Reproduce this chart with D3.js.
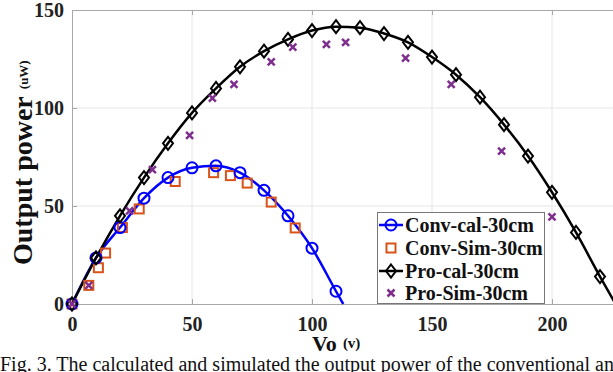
<!DOCTYPE html>
<html><head><meta charset="utf-8">
<script src="https://cdn.jsdelivr.net/npm/d3@7"></script>
<style>body{margin:0;background:#fff}svg{display:block}</style>
</head><body>
<svg id="c" width="613" height="372"></svg>
<script>
// ---- data ----
const xTicks = [0, 50, 100, 150, 200];
const yTicks = [0, 50, 100, 150];

const convCalX = [0, 10, 20, 30, 40, 50, 60, 70, 80, 90, 100, 110];
const convCalY = [0, 23.5, 39, 54, 64.5, 69.5, 70.5, 67, 58, 45, 28.5, 6.5];
const convCalEnd = [113, 0];

const convSimX = [0, 7, 11, 14, 21, 28, 43, 59, 66, 73, 83, 93];
const convSimY = [0, 9.5, 18.5, 26, 39, 48.5, 62.5, 67, 65.5, 61.7, 52, 38.8];

const proCalX = [0, 10, 20, 30, 40, 50, 60, 70, 80, 90, 100, 110, 120, 130, 140, 150, 160, 170, 180, 190, 200, 210, 220];
const proCalY = [0, 23.5, 45, 64.5, 82, 97.5, 110, 121, 129, 135, 139.5, 141.5, 141, 138, 133.5, 126, 117, 105.5, 91.5, 75.5, 57, 36.5, 14];
const proCalEnd = [226.5, 0];

const proSimX = [0, 7, 24, 33.5, 49, 58.5, 67.5, 83, 92, 106, 114, 139, 158, 179, 200];
const proSimY = [0, 9.5, 47.5, 68.5, 86, 105, 112, 123.5, 131, 132.5, 133.5, 125.5, 112, 78, 44.5];

const legendLabels = ["Conv-cal-30cm", "Conv-Sim-30cm", "Pro-cal-30cm", "Pro-Sim-30cm"];
const xTitle = "Vo", xUnit = "(v)";
const yTitle = "Output power", yUnit = "(uW)";
const caption = "Fig. 3. The calculated and simulated the output power of the conventional and";

// ---- layout ----
const svg = d3.select("#c");
const L = 72, T = 10, B = 304;
const x = d3.scaleLinear().domain([0, 225.4]).range([L, L + 225.4 * 2.4]);
const y = d3.scaleLinear().domain([0, 150]).range([B, T]);
const R = x.range()[1];
const font = "'Liberation Serif','Times New Roman',serif";
const BLUE = "#0000ff", ORANGE = "#d95319", BLACK = "#000", PURPLE = "#7e2f8e";

svg.append("rect").attr("width", 613).attr("height", 372).attr("fill", "#fff");

// grid
const g = svg.append("g");
g.selectAll(".gx").data(xTicks.filter(d => d > 0)).join("line")
  .attr("x1", d => x(d)).attr("x2", d => x(d)).attr("y1", T).attr("y2", B)
  .attr("stroke", "#e6e6e6").attr("stroke-width", 1);
g.selectAll(".gy").data(yTicks.filter(d => d > 0 && d < 150)).join("line")
  .attr("y1", d => y(d)).attr("y2", d => y(d)).attr("x1", L).attr("x2", R)
  .attr("stroke", "#e6e6e6").attr("stroke-width", 1);

// axes (box style with inner ticks)
const axB = d3.axisBottom(x).tickValues(xTicks).tickSizeInner(-5).tickSizeOuter(0).tickPadding(13);
const axT = d3.axisTop(x).tickValues(xTicks).tickSizeInner(-5).tickSizeOuter(0).tickFormat("");
const axLft = d3.axisLeft(y).tickValues(yTicks).tickSizeInner(-5).tickSizeOuter(0).tickPadding(8);
function style(sel) {
  sel.selectAll(".domain").attr("stroke", "#a8a8a8");
  sel.selectAll(".tick line").attr("stroke", "#a8a8a8");
  sel.selectAll("text").attr("font-family", font).attr("font-weight", "bold")
    .attr("font-size", 20).attr("fill", "#222");
}
svg.append("g").attr("transform", `translate(0,${B})`).call(axB).call(style);
svg.append("g").attr("transform", `translate(0,${T})`).call(axT).call(style);
svg.append("g").attr("transform", `translate(${L},0)`).call(axLft).call(style);

// lines
const line = d3.line().x(d => x(d[0])).y(d => y(d[1])).curve(d3.curveMonotoneX);
const convLine = convCalX.map((v, i) => [v, convCalY[i]]).concat([convCalEnd]);
const proLine = proCalX.map((v, i) => [v, proCalY[i]]).concat([proCalEnd]);
svg.append("path").attr("d", line(convLine)).attr("fill", "none").attr("stroke", BLUE).attr("stroke-width", 2.5);
svg.append("path").attr("d", line(proLine)).attr("fill", "none").attr("stroke", BLACK).attr("stroke-width", 2.5);

// marker drawers
function circ(sel, cx, cy) { sel.append("circle").attr("cx", cx).attr("cy", cy).attr("r", 5.5).attr("fill", "none").attr("stroke", BLUE).attr("stroke-width", 2); }
function sq(sel, cx, cy) { sel.append("rect").attr("x", cx - 4.5).attr("y", cy - 4.5).attr("width", 9).attr("height", 9).attr("fill", "none").attr("stroke", ORANGE).attr("stroke-width", 2); }
function dia(sel, cx, cy) { sel.append("path").attr("d", `M${cx},${cy - 6.5}L${cx + 5},${cy}L${cx},${cy + 6.5}L${cx - 5},${cy}Z`).attr("fill", "none").attr("stroke", BLACK).attr("stroke-width", 2); }
function cross(sel, cx, cy) { sel.append("path").attr("d", `M${cx - 3.5},${cy - 3.5}L${cx + 3.5},${cy + 3.5}M${cx - 3.5},${cy + 3.5}L${cx + 3.5},${cy - 3.5}`).attr("stroke", PURPLE).attr("stroke-width", 2.5); }

const m = svg.append("g");
convSimX.forEach((v, i) => sq(m, x(v), y(convSimY[i])));
convCalX.forEach((v, i) => circ(m, x(v), y(convCalY[i])));
proCalX.forEach((v, i) => dia(m, x(v), y(proCalY[i])));
proSimX.forEach((v, i) => cross(m, x(v), y(proSimY[i])));

// legend
const lg = svg.append("g");
lg.append("rect").attr("x", 377.5).attr("y", 212.5).attr("width", 167).attr("height", 91)
  .attr("fill", "#fff").attr("stroke", "#777").attr("stroke-width", 1);
const rows = [225, 248, 271, 293];
const drawers = [circ, sq, dia, cross];
legendLabels.forEach((t, i) => {
  const ry = rows[i];
  if (i === 0 || i === 2) {
    lg.append("line").attr("x1", 379).attr("x2", 403).attr("y1", ry).attr("y2", ry)
      .attr("stroke", i === 0 ? BLUE : BLACK).attr("stroke-width", 2.5);
  }
  drawers[i](lg, 391, ry);
  lg.append("text").attr("x", 405).attr("y", ry).attr("dy", "0.35em")
    .attr("font-family", font).attr("font-weight", "bold").attr("font-size", 20).attr("fill", "#111").text(t);
});

// titles
const xt = svg.append("text").attr("x", 312).attr("y", 351).attr("font-family", font).attr("font-weight", "bold").attr("fill", "#111");
xt.append("tspan").attr("font-size", 22).text(xTitle);
xt.append("tspan").attr("font-size", 15).attr("dx", 6).attr("dy", -3).text(xUnit);

const yt = svg.append("text").attr("transform", "translate(32,265) rotate(-90)")
  .attr("font-family", font).attr("font-weight", "bold").attr("fill", "#111");
yt.append("tspan").attr("font-size", 28).text(yTitle);
yt.append("tspan").attr("font-size", 13).attr("dx", 7).attr("dy", -4).text(yUnit);

// caption
svg.append("text").attr("x", 0).attr("y", 371).attr("font-family", font).attr("font-size", 20)
  .attr("fill", "#111").text(caption);
</script>
</body></html>
